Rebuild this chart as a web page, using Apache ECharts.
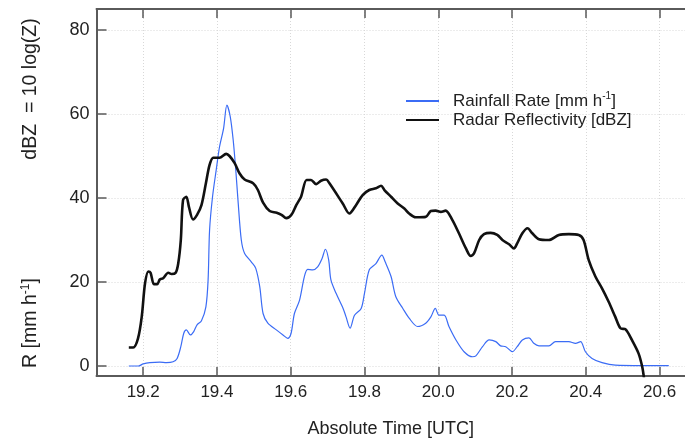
<!DOCTYPE html>
<html>
<head>
<meta charset="utf-8">
<script src="https://cdn.jsdelivr.net/npm/echarts@6/dist/echarts.min.js"></script>
<style>
  html, body { margin: 0; padding: 0; background: #fff; }
  #chart { width: 685px; height: 443px; }
</style>
</head>
<body>
<div id="chart"></div>
<script>
// time [UTC] and values
let rainTime = [19.161, 19.187, 19.200, 19.218, 19.245, 19.263, 19.281, 19.292, 19.302, 19.310,
    19.317, 19.328, 19.337, 19.346, 19.358, 19.370, 19.376, 19.380, 19.388, 19.398,
    19.407, 19.418, 19.427, 19.436, 19.444, 19.451, 19.457, 19.466, 19.475, 19.493,
    19.505, 19.516, 19.525, 19.538, 19.561, 19.579, 19.592, 19.601, 19.610, 19.624,
    19.637, 19.646, 19.660, 19.673, 19.685, 19.694, 19.703, 19.709, 19.723, 19.742,
    19.750, 19.761, 19.773, 19.791, 19.800, 19.813, 19.831, 19.847, 19.856, 19.872,
    19.885, 19.904, 19.921, 19.944, 19.966, 19.980, 19.992, 20.002, 20.016, 20.029,
    20.048, 20.070, 20.093, 20.102, 20.120, 20.138, 20.156, 20.169, 20.183, 20.201,
    20.214, 20.228, 20.246, 20.259, 20.273, 20.300, 20.318, 20.354, 20.372, 20.386,
    20.399, 20.417, 20.444, 20.480, 20.553, 20.625];
let rainRate = [0, 0, 0.5, 0.8, 0.9, 0.8, 1.0, 1.8, 4.6, 7.8,
    8.6, 7.4, 8.2, 9.8, 10.8, 14.1, 20.5, 32.4, 40.3, 46.7,
    52.2, 56.6, 62.1, 59.4, 53.8, 46.7, 39.5, 30.0, 26.8, 24.8,
    23.3, 18.9, 12.5, 10.2, 8.6, 7.4, 6.6, 7.8, 12.5, 15.7,
    21.3, 23.0, 22.9, 23.6, 25.6, 27.8, 25.2, 20.5, 17.3, 13.7,
    11.7, 9.0, 12.1, 13.7, 17.3, 22.9, 24.4, 26.4, 24.8, 21.3,
    16.5, 13.7, 11.4, 9.4, 10.2, 11.7, 13.7, 12.1, 12.1, 9.4,
    6.2, 3.4, 2.2, 2.4, 4.6, 6.2, 5.8, 4.8, 4.6, 3.4,
    4.6, 6.2, 6.7, 5.4, 4.8, 4.8, 5.8, 5.8, 5.4, 5.8,
    3.4, 1.8, 0.8, 0.2, 0.1, 0.1];

let dbzTime = [19.161, 19.173, 19.186, 19.196, 19.205, 19.214, 19.220, 19.229, 19.238, 19.245,
    19.254, 19.268, 19.277, 19.288, 19.295, 19.302, 19.308, 19.317, 19.324, 19.335,
    19.346, 19.358, 19.370, 19.380, 19.390, 19.407, 19.425, 19.434, 19.448, 19.461,
    19.475, 19.498, 19.511, 19.525, 19.543, 19.562, 19.575, 19.588, 19.602, 19.615,
    19.628, 19.643, 19.655, 19.669, 19.682, 19.696, 19.705, 19.741, 19.759, 19.777,
    19.795, 19.813, 19.831, 19.845, 19.854, 19.872, 19.890, 19.908, 19.921, 19.939,
    19.966, 19.980, 19.993, 20.007, 20.020, 20.038, 20.056, 20.075, 20.088, 20.097,
    20.111, 20.124, 20.142, 20.160, 20.174, 20.192, 20.205, 20.214, 20.228, 20.242,
    20.255, 20.273, 20.300, 20.327, 20.354, 20.381, 20.394, 20.408, 20.426, 20.444,
    20.462, 20.480, 20.494, 20.508, 20.525, 20.543, 20.553, 20.558];
let dbzValue = [4.4, 4.4, 6.6, 11.7, 19.7, 22.5, 22.2, 19.5, 19.5, 20.6,
    20.9, 22.2, 21.9, 22.2, 24.4, 30.0, 39.5, 40.3, 37.9, 34.9,
    36.0, 38.3, 43.5, 47.9, 49.6, 49.6, 50.5, 50.0, 48.3, 45.9,
    44.4, 43.5, 41.9, 38.9, 36.9, 36.5, 36.0, 35.2, 36.0, 38.3,
    40.3, 44.3, 44.3, 43.3, 44.1, 44.4, 43.5, 38.7, 36.3, 38.3,
    40.7, 41.9, 42.3, 42.9, 41.9, 40.3, 38.7, 37.5, 36.3, 35.4,
    35.5, 36.9, 37.0, 36.7, 37.0, 34.8, 31.6, 28.0, 26.2, 26.8,
    30.0, 31.4, 31.7, 31.2, 30.0, 29.0, 28.0, 29.2, 31.6, 32.8,
    31.6, 30.2, 30.0, 31.2, 31.4, 31.2, 30.0, 25.2, 21.3, 18.5,
    15.3, 11.7, 9.0, 8.7, 6.2, 3.0, -0.2, -3];

let xTicks = [19.2, 19.4, 19.6, 19.8, 20.0, 20.2, 20.4, 20.6];
let yTicks = [0, 20, 40, 60, 80];

function pairs(xs, ys) {
    return xs.map(function (x, i) { return [x, ys[i]]; });
}

let chart = echarts.init(document.getElementById('chart'), null, {renderer: 'canvas'});

const frameColor = '#5a5a5a';
const font = 'Liberation Sans, Arial, sans-serif';

let option = {
    animation: false,
    textStyle: {fontFamily: font},
    grid: {left: 96.5, top: 9, width: 590, height: 367, show: false},
    legend: {
        orient: 'vertical',
        left: 405,
        top: 91,
        padding: 0,
        itemWidth: 33,
        itemHeight: 20,
        itemGap: 2,
        // only the line sample, no marker
        itemStyle: {color: 'rgba(0,0,0,0)', borderWidth: 0, opacity: 0},
        textStyle: {
            fontSize: 17,
            color: '#222',
            padding: [0, 0, 0, 9],
            rich: {
                t: {fontSize: 17, lineHeight: 20, color: '#222', fontFamily: font},
                s: {fontSize: 10, lineHeight: 12, color: '#222', fontFamily: font, verticalAlign: 'top'}
            }
        },
        formatter: function (name) {
            if (name === 'Rainfall Rate') return '{t|Rainfall Rate [mm h}{s|-1}{t|]}';
            return '{t|' + name + '}';
        },
        data: ['Rainfall Rate', 'Radar Reflectivity [dBZ]']
    },
    xAxis: [{
        type: 'value',
        min: 19.0734,
        max: 20.669,
        name: 'Absolute Time [UTC]',
        nameLocation: 'middle',
        nameGap: 44,
        nameTextStyle: {fontSize: 18, color: '#222', fontFamily: font},
        axisLine: {show: true, onZero: false, lineStyle: {color: frameColor, width: 2}},
        axisTick: {show: true, inside: true, length: 9, customValues: xTicks, lineStyle: {color: frameColor, width: 1.5}},
        axisLabel: {customValues: xTicks, margin: 8, fontSize: 17, color: '#222',
            formatter: function (v) { return v.toFixed(1); }},
        splitLine: {show: true, lineStyle: {color: '#d8d8d8', type: [1, 2], width: 1}}
    }, {
        type: 'value',
        position: 'top',
        min: 19.0734,
        max: 20.669,
        axisLine: {show: true, onZero: false, lineStyle: {color: frameColor, width: 2}},
        axisTick: {show: true, inside: true, length: 9, customValues: xTicks, lineStyle: {color: frameColor, width: 1.5}},
        axisLabel: {show: false},
        splitLine: {show: false}
    }],
    yAxis: {
        type: 'value',
        min: -2.38,
        max: 85,
        axisLine: {show: true, onZero: false, lineStyle: {color: frameColor, width: 2}},
        axisTick: {show: true, inside: true, length: 10, customValues: yTicks, lineStyle: {color: frameColor, width: 1.5}},
        axisLabel: {customValues: yTicks, margin: 7, fontSize: 18, color: '#222'},
        splitLine: {show: true, lineStyle: {color: '#d8d8d8', type: [1, 2], width: 1}}
    },
    graphic: [{
        type: 'text',
        x: 31,
        y: 89,
        rotation: Math.PI / 2,
        style: {text: 'dBZ  = 10 log(Z)', fontSize: 19.5, fill: '#222', fontFamily: font,
            align: 'center', verticalAlign: 'middle'}
    }, {
        type: 'text',
        x: 31,
        y: 323,
        rotation: Math.PI / 2,
        style: {
            text: '{t|R [mm h}{s|-1}{t|]}',
            align: 'center', verticalAlign: 'middle',
            rich: {
                t: {fontSize: 19.5, lineHeight: 22, fill: '#222', fontFamily: font},
                s: {fontSize: 12, lineHeight: 13, fill: '#222', fontFamily: font, verticalAlign: 'top'}
            }
        }
    }],
    series: [{
        name: 'Rainfall Rate',
        type: 'line',
        data: pairs(rainTime, rainRate),
        smooth: 0.3,
        symbol: 'none',
        lineStyle: {color: '#3b6cf5', width: 1.2},
        itemStyle: {color: '#3b6cf5'}
    }, {
        name: 'Radar Reflectivity [dBZ]',
        type: 'line',
        data: pairs(dbzTime, dbzValue),
        smooth: 0.3,
        symbol: 'none',
        lineStyle: {color: '#111', width: 2.6},
        itemStyle: {color: '#111'}
    }]
};

chart.setOption(option);
</script>
</body>
</html>
